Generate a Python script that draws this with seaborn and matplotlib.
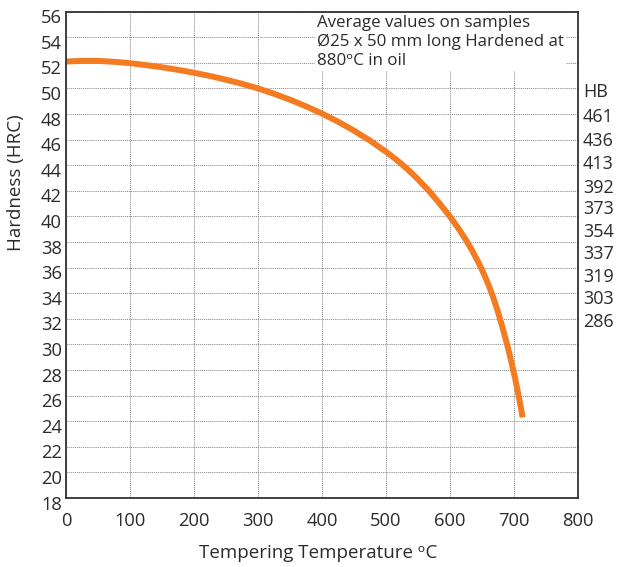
import matplotlib
matplotlib.use("Agg")
import matplotlib.pyplot as plt
import matplotlib.transforms as mtransforms
import seaborn as sns
import pandas as pd

# ---- data ----
temperature = [0, 25, 50, 75, 100, 125, 150, 175, 200, 225, 250, 275, 300, 325,
               350, 375, 400, 425, 450, 475, 500, 515, 530, 548, 567, 583, 599,
               612, 625, 635, 645, 653, 661, 668, 674.5, 680.5, 686.5, 692, 697,
               701.5, 706, 709.5, 712.5, 713.5]
hardness_hrc = [52.10, 52.15, 52.15, 52.08, 51.97, 51.82, 51.65, 51.45, 51.22,
                50.97, 50.68, 50.36, 50.00, 49.58, 49.12, 48.60, 48.03, 47.40,
                46.70, 45.92, 45.05, 44.48, 43.85, 43.00, 42.00, 41.05, 40.05,
                39.15, 38.15, 37.30, 36.35, 35.50, 34.55, 33.60, 32.60, 31.60,
                30.50, 29.45, 28.40, 27.40, 26.30, 25.40, 24.60, 24.30]

x_ticks = [0, 100, 200, 300, 400, 500, 600, 700, 800]
y_ticks = list(range(18, 57, 2))

hb_labels = ["HB", "461", "436", "413", "392", "373", "354", "337", "319", "303", "286"]
hb_levels = [49.70, 47.74, 45.86, 44.06, 42.25, 40.61, 38.81, 37.08, 35.28, 33.56, 31.75]

note_text = "Average values on samples\nØ25 x 50 mm long Hardened at\n880ᵒC in oil"
x_label = "Tempering Temperature ᵒC"
y_label = "Hardness (HRC)"

df = pd.DataFrame({"temp": temperature, "hrc": hardness_hrc})

# ---- style ----
sns.set_style("white")
plt.rcParams["font.family"] = ["Open Sans", "DejaVu Sans"]

text_color = "#2b2b2b"
orange = "#F47B20"

fig = plt.figure(figsize=(6.18, 5.67), dpi=100)
ax = fig.add_axes([66 / 618, 1 - 498 / 567, (578 - 66) / 618, (498 - 11.6) / 567])

sns.lineplot(data=df, x="temp", y="hrc", ax=ax, color=orange, linewidth=4.3,
             sort=False, estimator=None, solid_capstyle="butt",
             solid_joinstyle="round", zorder=3)

ax.set_xlim(0, 800)
ax.set_ylim(18, 56)
ax.set_xticks(x_ticks)
ax.set_yticks(y_ticks)
ax.set_xticklabels([str(v) for v in x_ticks])
ax.set_yticklabels([str(v) for v in y_ticks])

ax.grid(True, color="#8a8a8a", linestyle=(0, (1, 1)), linewidth=0.75)
ax.set_axisbelow(True)

for s in ax.spines.values():
    s.set_visible(True)
    s.set_color("#333333")
    s.set_linewidth(1.3)
    s.set_zorder(5)

ax.tick_params(axis="both", length=0, labelsize=13.2, colors=text_color)
ax.tick_params(axis="y", pad=3)
ax.tick_params(axis="x", pad=10)

# shift y tick labels slightly downward as in reference
offset = mtransforms.ScaledTranslation(0, -4.5 / 100, fig.dpi_scale_trans)
for lbl in ax.get_yticklabels():
    lbl.set_transform(lbl.get_transform() + offset)

ax.set_xlabel(x_label, fontsize=13.5, color=text_color, va="center")
ax.set_ylabel(y_label, fontsize=13.5, color=text_color, va="center")
ax.xaxis.set_label_coords(0.492, -(553 - 498) / 486.4)
ax.yaxis.set_label_coords((16.5 - 66) / 512, 1 - (182.5 - 11.6) / 486.4)

# HB scale on the right
blend = mtransforms.blended_transform_factory(ax.transAxes, ax.transData)
for lab, lev in zip(hb_labels, hb_levels):
    ax.text(1.01, lev, lab, transform=blend, ha="left", va="center",
            fontsize=13, color=text_color, clip_on=False)

# note
ax.text((317 - 66) / 512, 1 - (15 - 11.6) / 486.4, note_text, transform=ax.transAxes,
        ha="left", va="top", fontsize=12.2, color=text_color, linespacing=1.22,
        bbox=dict(facecolor="white", edgecolor="none", pad=1.5), zorder=2.2)

fig.savefig("out.png", dpi=100)
